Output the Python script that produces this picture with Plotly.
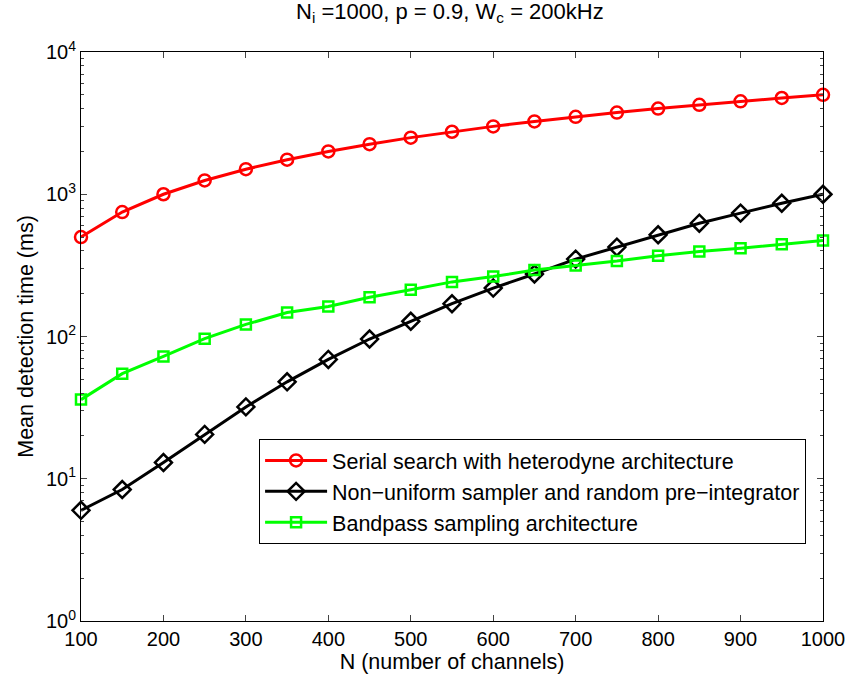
import plotly.graph_objects as go

N = [100, 150, 200, 250, 300, 350, 400, 450, 500, 550, 600, 650, 700, 750, 800, 850, 900, 950, 1000]
serial = [500, 750, 1000, 1250, 1500, 1750, 2000, 2250, 2500, 2750, 3000, 3250, 3500, 3750, 4000, 4250, 4500, 4750, 5000]
nonuniform = [6.0, 8.4, 13, 20.5, 32, 48, 69, 96, 128, 170, 219, 275, 350, 425, 519, 626, 737, 865, 1000]
bandpass = [36, 54.8, 72.4, 96.5, 121.6, 147.6, 162.6, 189, 213, 242, 264, 293, 316, 339, 370, 396, 418, 446, 473]

names = ["Serial search with heterodyne architecture",
         "Non\u2212uniform sampler and random pre\u2212integrator",
         "Bandpass sampling architecture"]
x_ticks = [100, 200, 300, 400, 500, 600, 700, 800, 900, 1000]
y_ticks = [1, 10, 100, 1000, 10000]
y_ticktext = ["10<sup>0</sup>", "10<sup>1</sup>", "10<sup>2</sup>", "10<sup>3</sup>", "10<sup>4</sup>"]

fig = go.Figure()
fig.add_trace(go.Scatter(x=N, y=serial, name=names[0], mode="lines+markers",
                         line=dict(color="#ff0000", width=3),
                         marker=dict(symbol="circle-open", size=12, color="#ff0000", line=dict(width=2.5)),
                         cliponaxis=False))
fig.add_trace(go.Scatter(x=N, y=nonuniform, name=names[1], mode="lines+markers",
                         line=dict(color="#000000", width=3),
                         marker=dict(symbol="diamond-open", size=13, color="#000000", line=dict(width=2.5)),
                         cliponaxis=False))
fig.add_trace(go.Scatter(x=N, y=bandpass, name=names[2], mode="lines+markers",
                         line=dict(color="#00ff00", width=3),
                         marker=dict(symbol="square-open", size=10, color="#00ff00", line=dict(width=2.5)),
                         cliponaxis=False))

minor_vals = []
for d in [1, 10, 100, 1000]:
    for k in range(2, 10):
        minor_vals.append(k * d)

font = "Liberation Sans, Arial, Helvetica, sans-serif"
fig.update_layout(
    width=852, height=677,
    paper_bgcolor="white", plot_bgcolor="white",
    margin=dict(l=81, r=29, t=52, b=56, autoexpand=False),
    font=dict(family=font, size=20, color="black"),
    title=dict(text="N<sub>i</sub> =1000, p = 0.9, W<sub>c</sub> = 200kHz",
               x=0.528, xanchor="center", xref="container",
               y=0.995, yanchor="top", yref="container",
               font=dict(size=22)),
    showlegend=True,
    legend=dict(x=0.24, y=0.32, xanchor="left", yanchor="top",
                bgcolor="white", bordercolor="black", borderwidth=1,
                font=dict(size=21.5), itemwidth=62, tracegroupgap=0),
)
fig.update_xaxes(range=[100, 1000], tickvals=x_ticks, ticks="inside", ticklen=6,
                 showline=True, linecolor="black", linewidth=1, mirror="allticks",
                 showgrid=False, zeroline=False, tickfont=dict(size=20),
                 automargin=False,
                 title=dict(text="N (number of channels)", font=dict(size=21.5), standoff=2))
fig.update_yaxes(type="log", range=[0, 4], tickvals=y_ticks, ticktext=y_ticktext,
                 ticks="inside", ticklen=6,
                 minor=dict(tickvals=minor_vals, ticks="inside", ticklen=3, showgrid=False),
                 showline=True, linecolor="black", linewidth=1, mirror="allticks",
                 showgrid=False, zeroline=False, tickfont=dict(size=20),
                 automargin=False,
                 title=dict(text="Mean detection time (ms)", font=dict(size=21.5), standoff=6))

fig.write_html("out.html")
